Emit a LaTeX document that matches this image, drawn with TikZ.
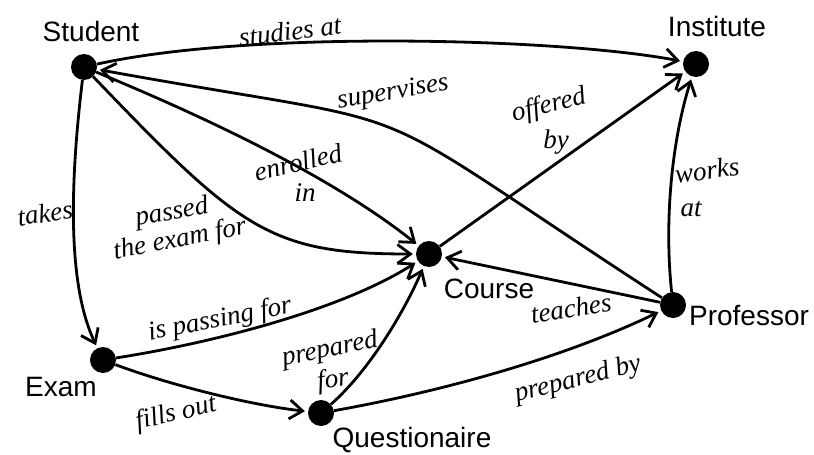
\documentclass[tikz,border=0pt]{standalone}
\usepackage{fontspec}
\setsansfont{Liberation Sans}
\newfontfamily\lblfont{Liberation Serif}
\usetikzlibrary{arrows.meta}
\tikzset{
  dot/.style={circle, fill=black, inner sep=0pt, minimum size=26pt},
  lbl/.style={font=\lblfont\itshape\fontsize{27}{30}\selectfont, inner sep=0pt},
  nname/.style={font=\sffamily\fontsize{28}{32}\selectfont, inner sep=0pt},
  edge/.style={line width=2.8pt, -{Straight Barb[length=13pt,width=19pt]}, shorten >=3pt}
}
\begin{document}
\begin{tikzpicture}[x=1pt,y=-1pt]
\useasboundingbox (0,0) rectangle (814,455);
% nodes
\node[dot] (S) at (84,67) {};
\node[dot] (I) at (696,64) {};
\node[dot] (C) at (429,254) {};
\node[dot] (P) at (673,305) {};
\node[dot] (E) at (103,360) {};
\node[dot] (Q) at (321,413) {};
% node names
\node[nname] (tS) at (91,31) {Student};
\node[nname] (tI) at (717,26) {Institute};
\node[nname] (tC) at (489,289) {Course};
\node[nname] (tP) at (749,316) {Professor};
\node[nname] (tE) at (61,387) {Exam};
\node[nname] (tQ) at (412,440) {Questionaire};
% edges
\draw[edge] (S) .. controls (250,30) and (560,38) .. (I);
\draw[edge] (P) .. controls (336,86) and (454,134) .. (S);
\draw[edge] (S) .. controls (200,115) and (330,175) .. (C);
\draw[edge] (S) .. controls (240,230) and (270,254) .. (C);
\draw[edge] (S) .. controls (68,200) and (70,290) .. (E);
\draw[edge] (E) .. controls (230,340) and (350,305) .. (C);
\draw[edge] (E) .. controls (170,385) and (250,405) .. (Q);
\draw[edge] (Q) .. controls (370,370) and (405,310) .. (C);
\draw[edge] (Q) .. controls (450,390) and (570,355) .. (P);
\draw[edge] (P) -- (C);
\draw[edge] (C) -- (I);
\draw[edge] (P) .. controls (664,220) and (672,140) .. (I);
% edge labels
\node[lbl, rotate=7] (l1) at (290,31) {studies at};
\node[lbl, rotate=10] (l2) at (393,93) {supervises};
\node[lbl, rotate=13] (l3a) at (298,162) {enrolled};
\node[lbl] (l3b) at (305,193) {in};
\node[lbl, rotate=10] (l4a) at (172,213) {passed};
\node[lbl, rotate=11] (l4b) at (180,240) {the exam for};
\node[lbl, rotate=8] (l5) at (45,213) {takes};
\node[lbl, rotate=14] (l6a) at (549,106) {offered};
\node[lbl] (l6b) at (556,142) {by};
\node[lbl, rotate=8] (l7a) at (707,170) {works};
\node[lbl] (l7b) at (691,209) {at};
\node[lbl, rotate=11] (l8) at (220,320) {is passing for};
\node[lbl, rotate=11] (l9a) at (330,350) {prepared};
\node[lbl, rotate=8] (l9b) at (333,381) {for};
\node[lbl, rotate=13] (l10) at (176,414) {fills out};
\node[lbl, rotate=9] (l11) at (571,308) {teaches};
\node[lbl, rotate=14] (l12) at (578,380) {prepared by};
\end{tikzpicture}
\end{document}
